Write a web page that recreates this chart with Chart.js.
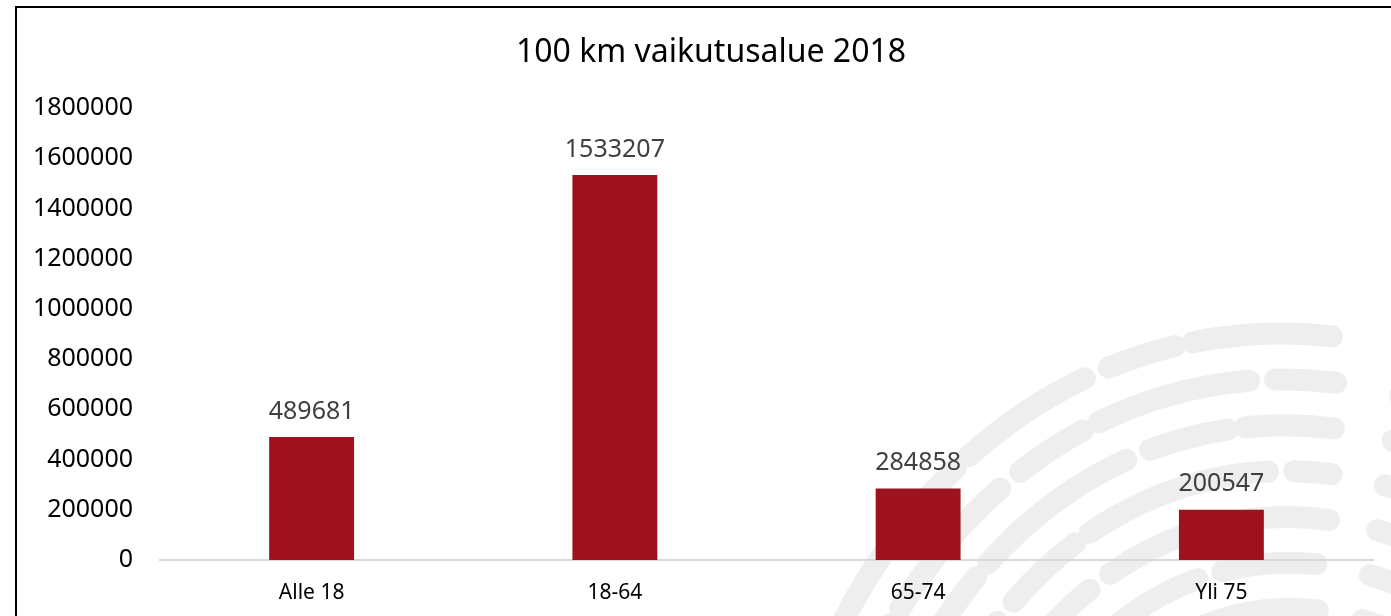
<!DOCTYPE html>
<html>
<head>
<meta charset="utf-8">
<script src="https://cdn.jsdelivr.net/npm/chart.js@4.4.0/dist/chart.umd.min.js"></script>
<style>
  html, body { margin: 0; padding: 0; background: #fff; }
  #wrap { position: relative; width: 1391px; height: 616px; overflow: hidden; }
  #frame { position: absolute; left: 15px; top: 6px; right: -10px; bottom: -10px;
           border-left: 2px solid #000; border-top: 2px solid #000; pointer-events: none; }
</style>
</head>
<body>
<div id="wrap">
  <canvas id="myChart" width="1391" height="616"></canvas>
  <div id="frame"></div>
</div>
<script>
var chartTitle = '100 km vaikutusalue 2018';
var categories = ['Alle 18', '18-64', '65-74', 'Yli 75'];
var values = [489681, 1533207, 284858, 200547];
var yMax = 1800000;
var yStep = 200000;

// faint fingerprint-like watermark in the lower right corner
var watermark = {
    id: 'watermark',
    beforeDraw: function (chart) {
        var ctx = chart.ctx;
        ctx.save();
        ctx.strokeStyle = '#eeeeee';
        ctx.lineCap = 'round';
        var cx = 1320, cy = 1000;
        for (var i = 0; i < 12; i++) {
            var rx = 550 - i * 42, ry = 670 - i * 46;
            ctx.lineWidth = 22;
            ctx.setLineDash([140 + i * 17, 26, 70 + i * 5, 18]);
            ctx.beginPath();
            ctx.ellipse(cx, cy, rx, ry, -0.18, Math.PI * 0.97 + i * 0.01, Math.PI * 1.58);
            ctx.stroke();
            ctx.setLineDash([200 + i * 9, 34]);
            ctx.beginPath();
            ctx.ellipse(cx, cy, rx, ry, -0.18, Math.PI * 1.62, Math.PI * 2.0);
            ctx.stroke();
        }
        ctx.restore();
    }
};

// title, centred over the framed area
var titleText = {
    id: 'titleText',
    afterDraw: function (chart) {
        var ctx = chart.ctx;
        ctx.save();
        ctx.fillStyle = '#000';
        ctx.font = '32px "Noto Sans"';
        ctx.textAlign = 'center';
        ctx.textBaseline = 'middle';
        ctx.fillText(chartTitle, 711, 53);
        ctx.restore();
    }
};

// value labels above the bars
var barValues = {
    id: 'barValues',
    afterDatasetsDraw: function (chart) {
        var ctx = chart.ctx;
        var meta = chart.getDatasetMeta(0);
        ctx.save();
        ctx.fillStyle = '#404040';
        ctx.font = '25px "Noto Sans"';
        ctx.textAlign = 'center';
        ctx.textBaseline = 'bottom';
        meta.data.forEach(function (bar, i) {
            ctx.fillText(String(values[i]), bar.x, bar.y - 13);
        });
        ctx.restore();
    }
};

var ctx = document.getElementById('myChart');
var myChart = new Chart(ctx, {
    type: 'bar',
    data: {
        labels: categories,
        datasets: [{
            label: 'Asukkaat',
            data: values,
            backgroundColor: '#9E121E',
            categoryPercentage: 1.0,
            barPercentage: 0.28
        }]
    },
    options: {
        responsive: false,
        animation: false,
        devicePixelRatio: 1,
        layout: { padding: { left: 0, right: 18, top: 108, bottom: 0 } },
        plugins: {
            legend: { display: false },
            tooltip: { enabled: false },
            title: { display: false }
        },
        scales: {
            x: {
                grid: { display: false, drawTicks: false },
                border: { display: true, color: '#d9d9d9', width: 2 },
                ticks: { color: '#000', font: { family: '"Noto Sans"', size: 21 }, padding: 20 },
                afterFit: function (scale) { scale.height = 56; }
            },
            y: {
                min: 0,
                max: yMax,
                grid: { display: false, drawTicks: false },
                border: { display: false },
                ticks: {
                    stepSize: yStep,
                    color: '#000',
                    padding: 27,
                    font: { family: '"Noto Sans"', size: 25 },
                    callback: function (v) { return String(v); }
                },
                afterFit: function (scale) { scale.width = 160; }
            }
        }
    },
    plugins: [watermark, barValues, titleText]
});
</script>
</body>
</html>
